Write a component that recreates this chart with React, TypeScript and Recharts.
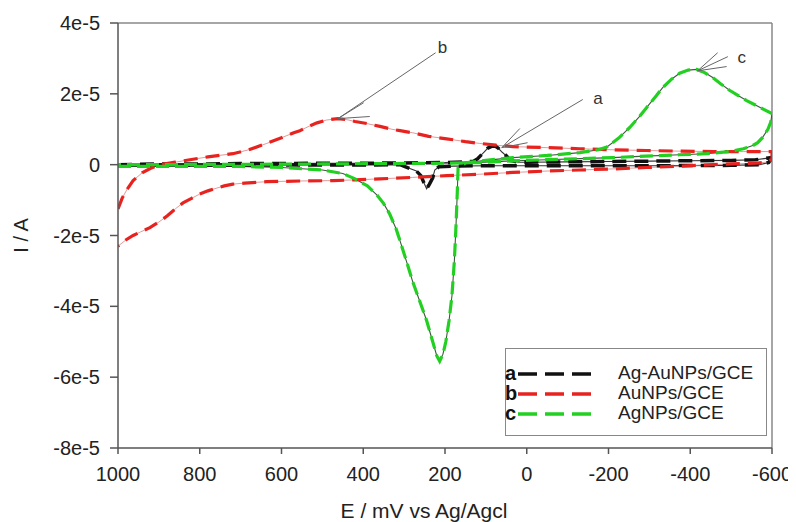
import React from 'react';
import { ComposedChart, Line, XAxis, YAxis, ReferenceLine, Legend, Scatter } from 'recharts';

const FONT = '"Liberation Sans", Arial, Helvetica, sans-serif';

// Potential E (mV vs Ag/AgCl) and current I (in units of 1e-5 A), in scan order
const agAuNPs: [number, number][] = [
  [1000, 0.0], [900, 0.02], [800, 0.02], [700, 0.03], [600, 0.03], [500, 0.04], [400, 0.04],
  [300, 0.05], [200, 0.06], [150, 0.08], [130, 0.1], [120, 0.17], [105, 0.35], [95, 0.47],
  [85, 0.52], [78, 0.53], [70, 0.47], [60, 0.35], [50, 0.25], [40, 0.12], [20, 0.07],
  [0, 0.07], [-100, 0.08], [-200, 0.09], [-300, 0.1], [-400, 0.11], [-500, 0.12], [-560, 0.14],
  [-600, 0.2], [-592, 0.06], [-570, 0.0], [-500, -0.02], [-300, -0.03], [-100, -0.03],
  [100, -0.03], [180, -0.04], [215, -0.06], [225, -0.15], [230, -0.37], [238, -0.55],
  [245, -0.68], [252, -0.5], [259, -0.31], [270, -0.18], [286, -0.11], [310, 0.0],
  [400, -0.01], [600, -0.01], [800, -0.01], [1000, 0.0],
];

const auNPs: [number, number][] = [
  [1000, -1.25], [990, -0.95], [978, -0.7], [963, -0.45], [940, -0.22], [920, -0.1],
  [897, 0.0], [860, 0.07], [824, 0.14], [780, 0.22], [719, 0.31], [680, 0.42], [636, 0.6],
  [600, 0.76], [570, 0.9], [555, 0.96], [530, 1.1], [513, 1.18], [490, 1.26], [462, 1.3],
  [440, 1.27], [420, 1.22], [391, 1.16], [359, 1.08], [330, 1.0], [310, 0.96], [279, 0.9],
  [240, 0.8], [196, 0.73], [150, 0.65], [115, 0.6], [75, 0.55], [34, 0.51], [-50, 0.48],
  [-130, 0.45], [-210, 0.42], [-293, 0.4], [-380, 0.38], [-455, 0.37], [-530, 0.37],
  [-600, 0.37], [-600, 0.15], [-585, 0.07], [-560, 0.04], [-500, 0.02], [-455, 0.0],
  [-380, -0.04], [-293, -0.08], [-210, -0.12], [-130, -0.15], [-50, -0.18], [34, -0.22],
  [115, -0.27], [196, -0.31], [280, -0.36], [359, -0.4], [420, -0.43], [474, -0.45],
  [550, -0.46], [636, -0.48], [690, -0.52], [719, -0.55], [740, -0.6], [758, -0.66],
  [780, -0.74], [800, -0.83], [820, -0.95], [841, -1.08], [860, -1.25], [880, -1.45],
  [900, -1.62], [922, -1.78], [945, -1.9], [963, -2.0], [980, -2.12], [1000, -2.3],
];

const agNPs: [number, number][] = [
  [1000, -0.05], [900, -0.05], [800, -0.05], [700, -0.05], [600, -0.08], [500, -0.15],
  [450, -0.25], [420, -0.4], [390, -0.6], [367, -0.85], [350, -1.1], [335, -1.4],
  [320, -1.8], [310, -2.15], [295, -2.7], [279, -3.3], [262, -3.85], [245, -4.4],
  [230, -5.0], [220, -5.4], [213, -5.55], [205, -5.35], [198, -5.0], [190, -4.4],
  [183, -3.7], [177, -2.7], [173, -1.7], [170, -0.8], [168, -0.1], [150, 0.05],
  [100, 0.12], [34, 0.2], [-50, 0.26], [-130, 0.34], [-175, 0.42], [-196, 0.5],
  [-225, 0.75], [-252, 1.05], [-275, 1.35], [-293, 1.61], [-315, 1.92], [-333, 2.18],
  [-355, 2.42], [-374, 2.58], [-395, 2.67], [-416, 2.69], [-435, 2.6], [-455, 2.46],
  [-475, 2.28], [-496, 2.1], [-520, 1.93], [-538, 1.81], [-570, 1.62], [-600, 1.44],
  [-597, 1.2], [-590, 1.0], [-577, 0.77], [-565, 0.62], [-553, 0.54], [-530, 0.45],
  [-496, 0.37], [-440, 0.31], [-374, 0.28], [-290, 0.24], [-210, 0.2], [-130, 0.17],
  [-49, 0.14], [50, 0.1], [115, 0.06], [200, 0.04], [359, 0.03], [500, 0.02],
  [700, 0.01], [1000, 0.0],
];

const xTicks = [1000, 800, 600, 400, 200, 0, -200, -400, -600];
const yTicks = [4, 2, 0, -2, -4, -6, -8]; // x 1e-5 A

const seriesLetters = ['a', 'b', 'c'];
const seriesNames = ['Ag-AuNPs/GCE', 'AuNPs/GCE', 'AgNPs/GCE'];
const seriesColors = ['#111111', '#e8231f', '#22d022'];
const seriesUnder = ['#333333', '#d98080', '#3d5a3d'];
const seriesPoints = [agAuNPs, auNPs, agNPs];

// annotation arrows: tip, tail, arrow-head ends, label position (E mV, I x1e-5 A)
const annotLabels = ['a', 'b', 'c'];
const annotTips: [number, number][] = [[61, 0.48], [462, 1.3], [-418, 2.65]];
const annotTails: [number, number][] = [[-137, 1.84], [223, 3.16], [-492, 3.05]];
const annotHead1: [number, number][] = [[17, 1.02], [399, 1.75], [-467, 3.16]];
const annotHead2: [number, number][] = [[-2, 0.62], [384, 1.36], [-489, 2.77]];
const annotText: [number, number][] = [[-174, 1.86], [206, 3.3], [-526, 3.02]];

const toRows = (pts: [number, number][]) => pts.map(([E, I]) => ({ E, I }));

const LegendBox = () => (
  <div
    style={{
      width: 262,
      height: 88,
      boxSizing: 'border-box',
      border: '1.5px solid #888',
      background: '#fff',
      paddingTop: 14,
      fontFamily: FONT,
      fontSize: 19,
      color: '#222',
    }}
  >
    {seriesNames.map((name, i) => (
      <div key={name} style={{ position: 'relative', height: 20, lineHeight: '20px' }}>
        <span style={{ position: 'absolute', left: -1, fontWeight: 'bold', fontSize: 20, color: '#111' }}>
          {seriesLetters[i]}
        </span>
        <svg width={80} height={20} style={{ position: 'absolute', left: 12, top: 0 }}>
          <line x1={0} y1={11} x2={78} y2={11} stroke={seriesColors[i]} strokeWidth={3.5} strokeDasharray="19 8" />
        </svg>
        <span style={{ position: 'absolute', left: 112 }}>{name}</span>
      </div>
    ))}
  </div>
);

const YLabel = (props: any) => {
  const { x, y, height } = props.viewBox;
  const cx = x + 3;
  const cy = y + height / 2;
  return (
    <text
      x={cx}
      y={cy}
      transform={`rotate(-90 ${cx} ${cy})`}
      textAnchor="middle"
      dominantBaseline="central"
      fontSize={20}
      fontFamily={FONT}
      fill="#222"
    >
      I / A
    </text>
  );
};

const AnnotText = (props: any) => (
  <text
    x={props.cx}
    y={props.cy}
    textAnchor="middle"
    dominantBaseline="central"
    fontSize={17}
    fontFamily={FONT}
    fill="#333"
  >
    {props.payload.label}
  </text>
);

export default function App() {
  const labelData = annotLabels.map((label, i) => ({ E: annotText[i][0], I: annotText[i][1], label }));
  return (
    <>
      <style>{'html, body { overflow: hidden; }'}</style>
      <ComposedChart
        width={788}
        height={514}
        margin={{ top: 15, right: 24, left: 10, bottom: 0 }}
        style={{ overflow: 'visible' }}
      >
        <XAxis
          type="number"
          dataKey="E"
          domain={[-600, 1000]}
          reversed
          ticks={xTicks}
          allowDataOverflow
          height={74}
          tickSize={6}
          tickMargin={13}
          stroke="#555"
          strokeWidth={1.5}
          tick={{ fill: '#222', fontSize: 20, fontFamily: FONT }}
          label={{ value: 'E / mV vs Ag/Agcl', position: 'insideBottom', offset: 4, dx: -21, fontSize: 21, fontFamily: FONT, fill: '#222' }}
        />
        <YAxis
          type="number"
          domain={[-8, 4]}
          ticks={yTicks}
          allowDataOverflow
          width={100}
          tickSize={8}
          tickMargin={10}
          stroke="#555"
          strokeWidth={1.5}
          tick={{ fill: '#222', fontSize: 20, fontFamily: FONT }}
          tickFormatter={(v: number) => (v === 0 ? '0' : `${v}e-5`)}
          label={<YLabel />}
        />
        <ReferenceLine y={4} stroke="#888" strokeWidth={1.5} />
        <ReferenceLine x={-600} stroke="#888" strokeWidth={1.5} />

        {seriesPoints.map((pts, i) => (
          <Line
            key={`u${i}`}
            data={toRows(pts)}
            dataKey="I"
            type="linear"
            stroke={seriesUnder[i]}
            strokeWidth={i === 1 ? 0.8 : 1.1}
            dot={false}
            activeDot={false}
            isAnimationActive={false}
            legendType="none"
          />
        ))}
        {seriesPoints.map((pts, i) => (
          <Line
            key={`d${i}`}
            data={toRows(pts)}
            dataKey="I"
            name={seriesNames[i]}
            type="linear"
            stroke={seriesColors[i]}
            strokeWidth={i === 0 ? 3.5 : 3.2}
            strokeDasharray={i === 2 ? '13 6' : '14 8'}
            dot={false}
            activeDot={false}
            isAnimationActive={false}
          />
        ))}

        {annotLabels.map((l, i) => (
          <ReferenceLine
            key={`t${l}`}
            segment={[{ x: annotTips[i][0], y: annotTips[i][1] }, { x: annotTails[i][0], y: annotTails[i][1] }]}
            stroke="#666"
            strokeWidth={1}
            ifOverflow="visible"
          />
        ))}
        {annotLabels.map((l, i) => (
          <ReferenceLine
            key={`h1${l}`}
            segment={[{ x: annotTips[i][0], y: annotTips[i][1] }, { x: annotHead1[i][0], y: annotHead1[i][1] }]}
            stroke="#666"
            strokeWidth={1}
            ifOverflow="visible"
          />
        ))}
        {annotLabels.map((l, i) => (
          <ReferenceLine
            key={`h2${l}`}
            segment={[{ x: annotTips[i][0], y: annotTips[i][1] }, { x: annotHead2[i][0], y: annotHead2[i][1] }]}
            stroke="#666"
            strokeWidth={1}
            ifOverflow="visible"
          />
        ))}
        <Scatter data={labelData} dataKey="I" shape={<AnnotText />} isAnimationActive={false} legendType="none" />

        <Legend
          layout="horizontal"
          verticalAlign="middle"
          align="center"
          content={() => <LegendBox />}
          wrapperStyle={{ position: 'absolute', left: 497, top: 340, width: 262, height: 88 }}
        />
      </ComposedChart>
    </>
  );
}
